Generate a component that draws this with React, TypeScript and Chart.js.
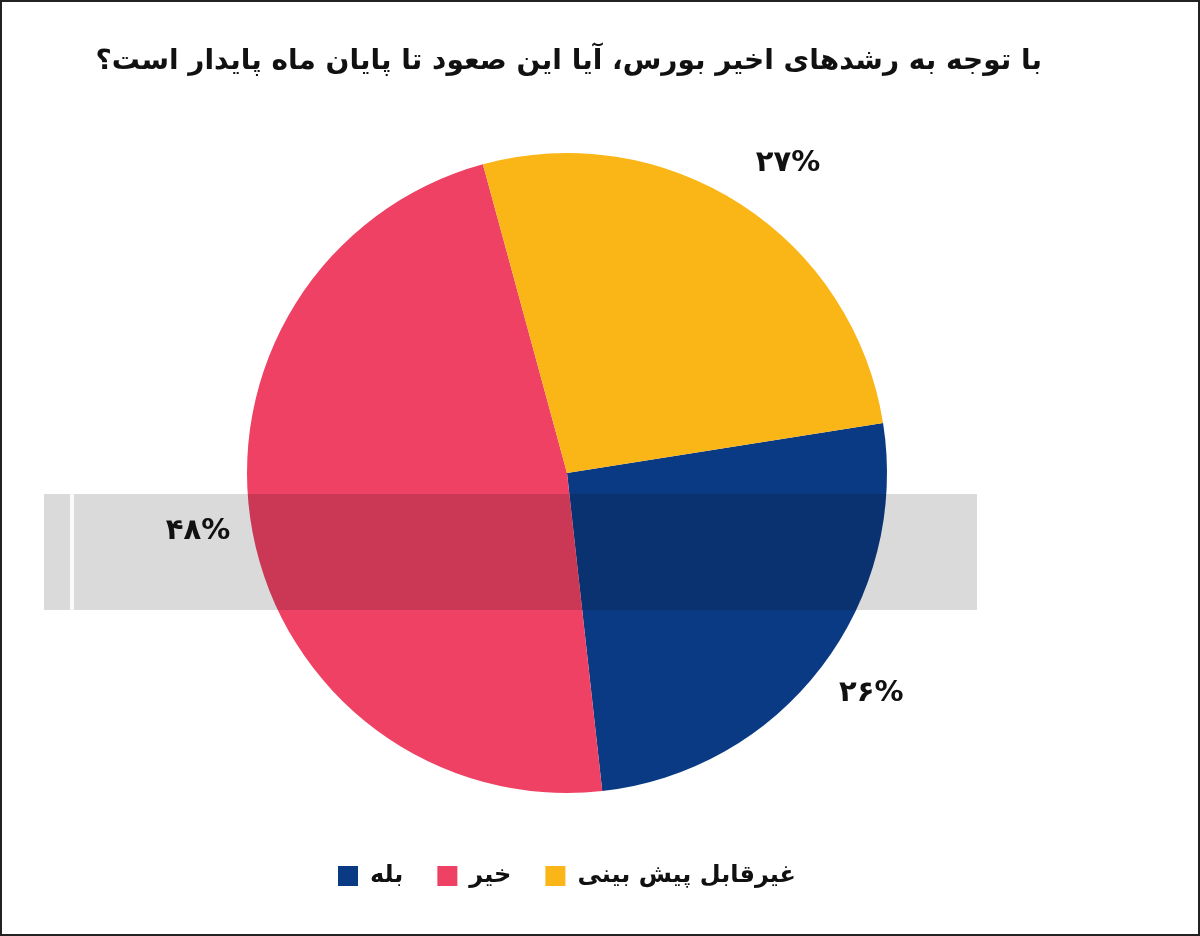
import React, { useEffect, useRef } from "react";
import { Chart, registerables } from "chart.js";

Chart.register(...registerables);

const titleText = "با توجه به رشدهای اخیر بورس، آیا این صعود تا پایان ماه پایدار است؟";
const categories = ["بله", "خیر", "غیرقابل پیش بینی"];
const values = [26, 48, 27];
const valueLabels = ["۲۶%", "۴۸%", "۲۷%"];
const colors = ["#0b3a84", "#ee4163", "#fab517"];

const FONT = "'DejaVu Sans', 'Noto Sans', sans-serif";

const overlayPlugin = {
  id: "overlayPlugin",
  afterDraw(chart: any) {
    const ctx = chart.ctx;
    const meta = chart.getDatasetMeta(0);
    ctx.save();
    // watermark band (multiplied over the drawing)
    ctx.globalCompositeOperation = "multiply";
    ctx.fillStyle = "#dadada";
    ctx.fillRect(42, 492, 933, 116);
    ctx.globalCompositeOperation = "source-over";
    ctx.fillStyle = "rgba(255,255,255,0.85)";
    ctx.fillRect(68, 492, 4, 116);
    // title
    ctx.fillStyle = "#111";
    ctx.font = `bold 28px ${FONT}`;
    ctx.textBaseline = "middle";
    ctx.textAlign = "right";
    (ctx as any).direction = "rtl";
    ctx.fillText(titleText, 1040, 60);
    (ctx as any).direction = "ltr";
    // value labels
    ctx.font = `bold 29px ${FONT}`;
    ctx.textAlign = "center";
    const offs = [
      [4, -9],
      [2, -12],
      [16, 8],
    ];
    meta.data.forEach((arc: any, i: number) => {
      const mid = (arc.startAngle + arc.endAngle) / 2;
      const r = arc.outerRadius * 1.18;
      const x = arc.x + Math.cos(mid) * r + offs[i][0];
      const y = arc.y + Math.sin(mid) * r + offs[i][1];
      ctx.fillText(valueLabels[i], x, y);
    });
    ctx.restore();
  },
};

export default function App() {
  const ref = useRef<HTMLCanvasElement>(null);
  useEffect(() => {
    document.body.style.margin = "0";
    const chart = new Chart(ref.current!, {
      type: "pie",
      data: {
        labels: categories,
        datasets: [
          {
            data: values,
            backgroundColor: colors,
            borderWidth: 0,
          },
        ],
      },
      options: {
        animation: false,
        responsive: false,
        rotation: 81,
        layout: { padding: { left: 245, right: 311, top: 114, bottom: 36 } },
        plugins: {
          tooltip: { enabled: false },
          title: { display: false },
          legend: {
            display: true,
            position: "bottom",
            labels: {
              color: "#111",
              boxWidth: 20,
              boxHeight: 20,
              padding: 34,
              font: { family: FONT, size: 24, weight: "bold" },
            },
          },
        },
      },
      plugins: [overlayPlugin],
    });
    return () => chart.destroy();
  }, []);
  return (
    <div
      style={{
        position: "absolute",
        left: 0,
        top: 0,
        width: 1200,
        height: 936,
        border: "2px solid #222",
        boxSizing: "border-box",
        background: "#fff",
        overflow: "hidden",
      }}
    >
      <canvas ref={ref} width={1196} height={932} style={{ display: "block" }} />
    </div>
  );
}
